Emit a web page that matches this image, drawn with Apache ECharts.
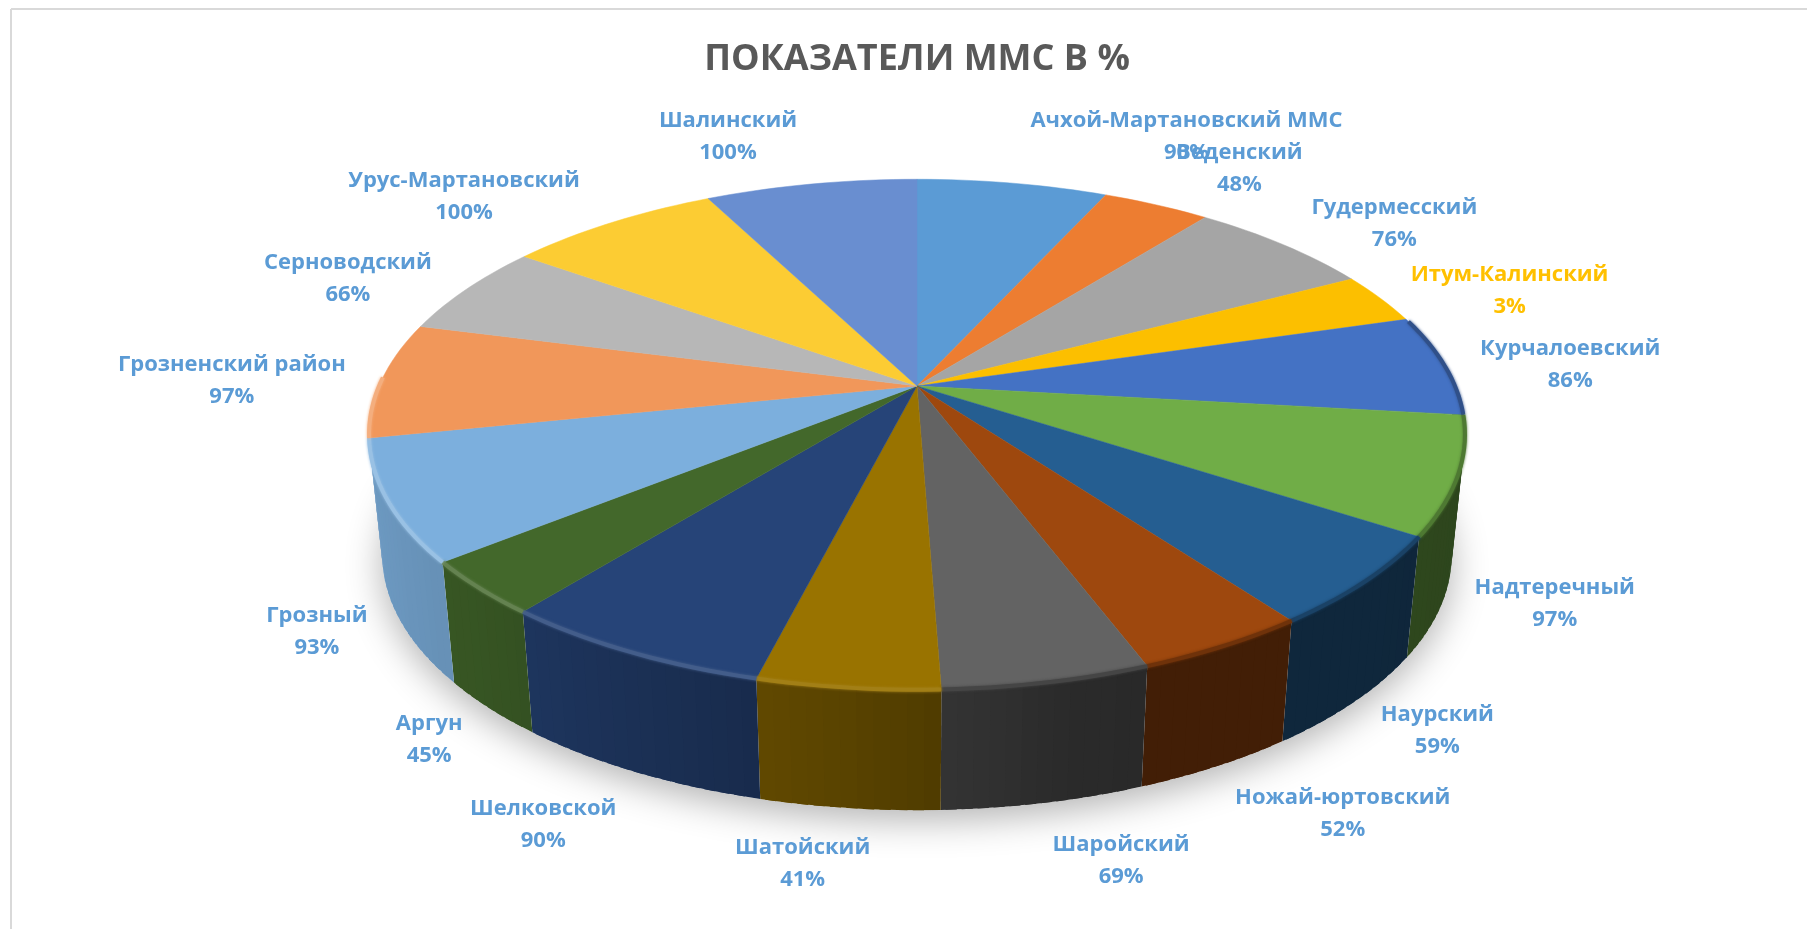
<!DOCTYPE html>
<html>
<head>
<meta charset="utf-8">
<title>ПОКАЗАТЕЛИ ММС В %</title>
<script src="https://cdn.jsdelivr.net/npm/echarts@6/dist/echarts.min.js"></script>
<style>
  html, body { margin: 0; padding: 0; background: #fff; }
  #chart { width: 1807px; height: 929px; }
</style>
</head>
<body>
<div id="chart"></div>
<script>
const names = ['Ачхой-Мартановский ММС', 'Веденский', 'Гудермесский', 'Итум-Калинский', 'Курчалоевский',
    'Надтеречный', 'Наурский', 'Ножай-юртовский', 'Шаройский', 'Шатойский', 'Шелковской', 'Аргун',
    'Грозный', 'Грозненский район', 'Серноводский', 'Урус-Мартановский', 'Шалинский'];
// printed percent labels
const percents = [90, 48, 76, 3, 86, 97, 59, 52, 69, 41, 90, 45, 93, 97, 66, 100, 100];
// slice sizes as measured on the picture (the drawn slices do not follow the labels exactly, see Итум-Калинский)
const sliceSizes = [24.3, 13.7, 23.7, 11.7, 23.2, 26.7, 20.6, 15.5, 18.5, 16.2, 24.5, 12.3, 27.4, 26.4, 21.1, 27.2, 27.0];
const colors = ['#5b9bd5', '#ed7d31', '#a5a5a5', '#fcbf00', '#4472c4', '#70ad47', '#255e91', '#9e480e',
    '#636363', '#997300', '#264478', '#43682b', '#7cafdd', '#f1975a', '#b7b7b7', '#fccc33', '#698ed0'];
const labelColors = { 'Итум-Калинский': '#ffc000' };
// label offset from the slice's rim midpoint
const labelNudge = [[174, -46], [83, -36], [111, -21], [129, -8], [126, 0], [97, 128], [72, 150], [119, 168],
    [74, 178], [-45, 176], [-86, 173], [-50, 152], [-71, 131], [-150, 1], [-119, -10], [-147, -26], [-83, -47]];

// perspective disc: top face and bottom edge
const topDisc = { cx: 917, cy: 386, a: 538, b: 246, k: 0.19 };
const baseDisc = { cx: 917, cy: 506.5, a: 525, b: 246, k: 0.19 };
// part of the rim whose wall faces the viewer
const WALL_FROM = 90, WALL_TO = 258.4;

const total = sliceSizes.reduce((s, v) => s + v, 0);
const starts = [];
sliceSizes.reduce((s, v, i) => { starts[i] = s; return s + v / total * 360; }, 0);
const endOf = i => starts[i] + sliceSizes[i] / total * 360;

function project(disc, deg, r = 1) {
    const t = deg * Math.PI / 180;
    const X = r * Math.sin(t), Y = -r * Math.cos(t);
    const w = 1 - disc.k * Y;
    return [disc.cx + disc.a * X / w, disc.cy + disc.b * Y / w];
}
function arc(disc, from, to, r = 1) {
    const pts = [];
    const n = Math.max(2, Math.ceil(Math.abs(to - from) / 1.5));
    for (let j = 0; j <= n; j++) pts.push(project(disc, from + (to - from) * j / n, r));
    return pts;
}
function hex(c) { return [1, 3, 5].map(p => parseInt(c.substr(p, 2), 16)); }
function mix(c, other, t) {
    const a = hex(c), b = hex(other);
    return 'rgb(' + a.map((v, i) => Math.round(v + (b[i] - v) * t)).join(',') + ')';
}
// wall darkness by angle, lit from the left
function wallShade(deg) {
    const stops = [[90, 0.4], [165, 0.42], [186, 0.58], [206, 0.71], [225, 0.81], [245, 0.86], [270, 0.9]];
    if (deg <= stops[0][0]) return stops[0][1];
    for (let i = 1; i < stops.length; i++) {
        if (deg <= stops[i][0]) {
            const f = (deg - stops[i - 1][0]) / (stops[i][0] - stops[i - 1][0]);
            return stops[i - 1][1] + (stops[i][1] - stops[i - 1][1]) * f;
        }
    }
    return 0.9;
}

function renderShadow() {
    return {
        type: 'polygon',
        shape: { points: arc(baseDisc, 0, 360) },
        style: { fill: '#fff', shadowBlur: 36, shadowColor: 'rgba(0,0,0,0.3)', shadowOffsetY: 10 }
    };
}
// wall is built from narrow quads so the outline follows the tangent between both rims
function renderWall(params) {
    const i = params.dataIndex;
    const from = Math.max(starts[i], WALL_FROM), to = Math.min(endOf(i), WALL_TO);
    if (to - from < 0.5) return null;
    const children = [];
    const n = Math.max(1, Math.ceil((to - from) / 1.5));
    for (let j = 0; j < n; j++) {
        const d0 = from + (to - from) * j / n;
        // each quad runs under the next one, that hides the seams
        const d1 = Math.min(to, from + (to - from) * (j + 1) / n + 1);
        children.push({
            type: 'polygon',
            shape: { points: [project(topDisc, d0), project(topDisc, d1), project(baseDisc, d1), project(baseDisc, d0)] },
            style: { fill: mix(colors[i], '#000000', 1 - wallShade(d0 + 0.75)) }
        });
    }
    return { type: 'group', children: children };
}
function renderTop(params) {
    const i = params.dataIndex;
    const pts = [[topDisc.cx, topDisc.cy]].concat(arc(topDisc, starts[i], endOf(i)));
    return {
        type: 'polygon',
        shape: { points: pts },
        style: { fill: colors[i], stroke: colors[i], lineWidth: 0.5 }
    };
}
// the soft edge between top face and wall
function renderBevel(params) {
    const i = params.dataIndex;
    const from = Math.max(starts[i], 74), to = Math.min(endOf(i), 272);
    if (to <= from) return null;
    const mid = (from + to) / 2;
    const c = colors[i];
    // right part blends dark, left part catches light
    const lit = Math.max(0, Math.min(1, (mid - 175) / 70));
    const edge = lit > 0 ? mix(c, '#ffffff', 0.06 + 0.16 * lit) : mix(c, '#000000', 0.3);
    return {
        type: 'polyline',
        shape: { points: arc(topDisc, from, to, 1.0) },
        style: { fill: null, stroke: edge, lineWidth: 4, shadowBlur: 3, shadowColor: edge }
    };
}
function renderLabel(params) {
    const i = params.dataIndex;
    const rim = project(topDisc, (starts[i] + endOf(i)) / 2);
    return {
        type: 'text',
        x: rim[0] + labelNudge[i][0],
        y: rim[1] + labelNudge[i][1],
        style: {
            text: names[i] + '\n' + percents[i] + '%',
            fill: labelColors[names[i]] || '#5b9bd5',
            font: 'bold 22px "Open Sans", sans-serif',
            lineHeight: 32,
            align: 'center',
            verticalAlign: 'middle'
        }
    };
}

const chart = echarts.init(document.getElementById('chart'));
const rows = names.map((n, i) => [sliceSizes[i], percents[i]]);
const layer = (name, fn, z, data) => ({
    type: 'custom', name: name, coordinateSystem: 'none', renderItem: fn, data: data || rows,
    z: z, silent: true, animation: false
});
chart.setOption({
    animation: false,
    title: {
        text: 'ПОКАЗАТЕЛИ ММС В %',
        left: 912,
        top: 55,
        textAlign: 'center',
        textVerticalAlign: 'middle',
        textStyle: { color: '#595959', fontSize: 36, fontWeight: 'bold', fontFamily: '"Open Sans", sans-serif' }
    },
    graphic: [
        { type: 'line', shape: { x1: 11, y1: 9, x2: 1807, y2: 9 }, style: { stroke: '#d9d9d9', lineWidth: 2 } },
        { type: 'line', shape: { x1: 11, y1: 9, x2: 11, y2: 929 }, style: { stroke: '#d9d9d9', lineWidth: 2 } }
    ],
    series: [
        layer('shadow', renderShadow, 1, [[0]]),
        layer('wall', renderWall, 2),
        layer('top', renderTop, 3),
        layer('bevel', renderBevel, 4),
        layer('label', renderLabel, 5)
    ]
});
</script>
</body>
</html>
